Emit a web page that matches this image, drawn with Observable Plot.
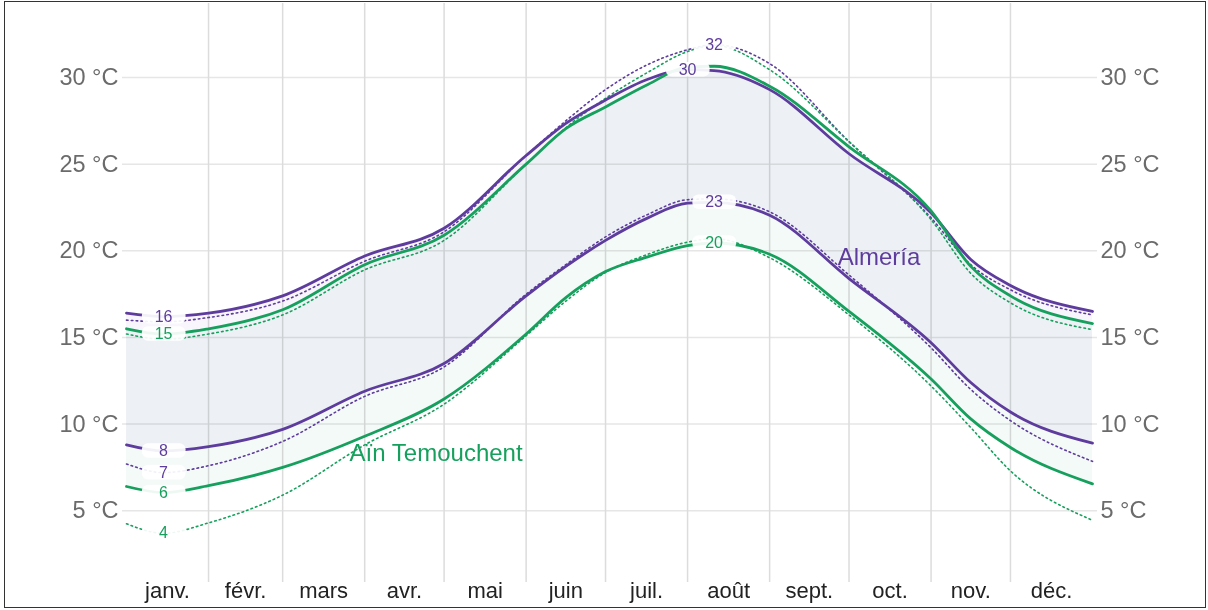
<!DOCTYPE html>
<html><head><meta charset="utf-8">
<script src="https://cdn.jsdelivr.net/npm/d3@7"></script>
<script src="https://cdn.jsdelivr.net/npm/@observablehq/plot@0.6"></script>
<style>
body{margin:0;background:#fff;font-family:"Liberation Sans",Arial,sans-serif;}
#wrap{position:relative;width:1208px;height:610px;overflow:hidden;}
#chart{position:absolute;left:0;top:0;}
#frame{position:absolute;left:4px;top:1px;width:1202px;height:607px;border:1.5px solid #333;box-sizing:border-box;pointer-events:none;}
</style></head><body>
<div id="wrap"><div id="chart"></div><div id="frame"></div></div>
<script>
// Day of year for each sample (0 = 1 Jan, 365 = 31 Dec end)
const days = [0, 14, 31, 59, 90, 120, 151, 166, 181, 197, 212, 222, 243, 273, 304, 319, 334, 365];

// Almería (°C)
const almeriaHigh      = [16.4, 16.2, 16.4, 17.4, 19.7, 21.3, 25.5, 27.35, 28.7, 29.9, 30.45, 30.4, 29.3, 25.6, 22.2, 19.5, 18.0, 16.5];
const almeriaLow       = [8.8, 8.45, 8.7, 9.7, 11.9, 13.5, 17.4, 19.1, 20.6, 21.9, 22.75, 22.8, 22.05, 18.4, 14.7, 12.4, 10.7, 8.9];
const almeriaHighFeels = [16.0, 15.9, 16.15, 17.1, 19.4, 21.1, 25.5, 27.5, 29.3, 30.75, 31.6, 31.9, 30.8, 26.3, 21.9, 19.2, 17.75, 16.3];
const almeriaLowFeels  = [7.7, 7.2, 7.6, 9.0, 11.6, 13.3, 17.5, 19.2, 20.8, 22.1, 22.95, 23.0, 22.25, 18.6, 14.4, 12.0, 10.2, 7.85];

// Aïn Temouchent (°C)
const ainHigh      = [15.5, 15.2, 15.5, 16.6, 19.2, 20.9, 25.0, 27.05, 28.3, 29.6, 30.6, 30.65, 29.5, 26.0, 22.3, 19.1, 17.4, 15.8];
const ainLow       = [6.4, 6.05, 6.45, 7.5, 9.3, 11.45, 15.2, 17.3, 18.8, 19.65, 20.3, 20.45, 19.8, 16.5, 12.6, 10.3, 8.65, 6.55];
const ainHighFeels = [15.2, 14.9, 15.2, 16.3, 18.9, 20.6, 25.0, 27.1, 28.8, 30.3, 31.5, 31.85, 30.45, 26.3, 21.8, 18.7, 17.0, 15.45];
const ainLowFeels  = [4.25, 3.7, 4.3, 5.9, 8.8, 11.15, 15.1, 17.1, 18.75, 19.8, 20.5, 20.7, 19.6, 16.3, 12.2, 9.8, 7.3, 4.45];

const monthNames = ["janv.", "févr.", "mars", "avr.", "mai", "juin", "juil.", "août", "sept.", "oct.", "nov.", "déc."];
const monthStarts = [0, 31, 59, 90, 120, 151, 181, 212, 243, 273, 304, 334, 365];
const tempTicks = [5, 10, 15, 20, 25, 30];
const cityNames = ["Almería", "Aïn Temouchent"];

// labelled extremes: [series key, "min" | "max"]
const labelSpecs = [
  ["almeriaHigh", "min"], ["ainHigh", "min"], ["almeriaLow", "min"], ["almeriaLowFeels", "min"],
  ["ainLow", "min"], ["ainLowFeels", "min"],
  ["almeriaHighFeels", "max"], ["almeriaHigh", "max"], ["almeriaLow", "max"], ["ainLow", "max"]
];

const PURPLE = "#5e3c9e";
const GREEN = "#17a05d";

const series = [
  {key: "almeriaHigh", values: almeriaHigh, color: PURPLE, dotted: false},
  {key: "almeriaLow", values: almeriaLow, color: PURPLE, dotted: false},
  {key: "almeriaHighFeels", values: almeriaHighFeels, color: PURPLE, dotted: true},
  {key: "almeriaLowFeels", values: almeriaLowFeels, color: PURPLE, dotted: true},
  {key: "ainHigh", values: ainHigh, color: GREEN, dotted: false},
  {key: "ainLow", values: ainLow, color: GREEN, dotted: false},
  {key: "ainHighFeels", values: ainHighFeels, color: GREEN, dotted: true},
  {key: "ainLowFeels", values: ainLowFeels, color: GREEN, dotted: true}
];
const byKey = new Map(series.map(s => [s.key, s]));

const rows = series.flatMap(s => s.values.map((t, i) => ({series: s.key, day: days[i], temp: t, color: s.color, dotted: s.dotted})));
const solidRows = rows.filter(r => !r.dotted);
const dottedRows = rows.filter(r => r.dotted);

const almBand = days.map((d, i) => ({day: d, lo: almeriaLow[i], hi: almeriaHigh[i]}));
const ainBand = days.map((d, i) => ({day: d, lo: ainLow[i], hi: ainHigh[i]}));

const labels = labelSpecs.map(([k, m]) => {
  const s = byKey.get(k);
  const idx = m === "min" ? d3.minIndex(s.values) : d3.maxIndex(s.values);
  return {day: days[idx], temp: s.values[idx], color: s.color, text: String(Math.round(s.values[idx]))};
});

const midDays = monthStarts.slice(0, -1).map((d, i) => (d + monthStarts[i + 1]) / 2);
const nameByMid = new Map(midDays.map((d, i) => [d, monthNames[i]]));

const almLabel = [{name: cityNames[0], day: days[13], temp: almeriaLow[13]}];
const ainLabel = [{name: cityNames[1], day: days[5], temp: ainLow[5]}];

const chart = Plot.plot({
  width: 1208,
  height: 610,
  marginLeft: 126,
  marginRight: 116,
  marginTop: 3,
  marginBottom: 28,
  style: {fontFamily: "'Liberation Sans', Arial, sans-serif", background: "transparent", color: "#6b6b6b"},
  x: {domain: [0, 365]},
  y: {domain: [0.86, 34.27]},
  marks: [
    Plot.ruleY(tempTicks, {stroke: "#e6e6e6", strokeWidth: 1.5, insetLeft: -4, insetRight: -5}),
    Plot.ruleX(monthStarts.slice(1, -1), {stroke: "#dcdcdc", strokeWidth: 1.5}),
    Plot.areaY(almBand, {x: "day", y1: "lo", y2: "hi", fill: "#f8f6fc", curve: "monotone-x", mixBlendMode: "multiply"}),
    Plot.areaY(ainBand, {x: "day", y1: "lo", y2: "hi", fill: "#f4faf8", curve: "monotone-x", mixBlendMode: "multiply"}),
    Plot.line(dottedRows, {x: "day", y: "temp", z: "series", stroke: "color", strokeWidth: 1.6, strokeDasharray: "1.6 3.2", curve: "monotone-x"}),
    Plot.line(solidRows, {x: "day", y: "temp", z: "series", stroke: "color", strokeWidth: 2.8, curve: "monotone-x"}),
    Plot.rect(labels, {x1: d => d.day - 8, x2: d => d.day + 8.5, y1: d => d.temp - 0.42, y2: d => d.temp + 0.42, fill: "white", fillOpacity: 0.93, rx: 6, ariaLabel: "halo"}),
    Plot.text(labels, {x: "day", y: "temp", text: "text", fill: "color", fontSize: 16}),
    Plot.text(almLabel, {x: "day", y: "temp", text: "name", fill: PURPLE, fontSize: 24, dx: 30, dy: -21}),
    Plot.text(ainLabel, {x: "day", y: "temp", text: "name", fill: GREEN, fontSize: 24, dx: -8, dy: 54}),
    Plot.axisY(tempTicks, {anchor: "left", tickSize: 0, tickPadding: 8, tickFormat: d => `${d} °C`, fontSize: 23.5, fill: "#6b6b6b", label: null}),
    Plot.axisY(tempTicks, {anchor: "right", tickSize: 0, tickPadding: 8, tickFormat: d => `${d} °C`, fontSize: 23.5, fill: "#6b6b6b", label: null}),
    Plot.axisX(midDays, {anchor: "bottom", tickSize: 0, tickPadding: 0, tickFormat: d => nameByMid.get(d), fontSize: 22, fill: "#222", label: null})
  ]
});

d3.select(chart).selectAll('g[aria-label="halo"] rect').style("filter", "blur(1.5px)");

document.getElementById("chart").appendChild(chart);
</script>
</body></html>
